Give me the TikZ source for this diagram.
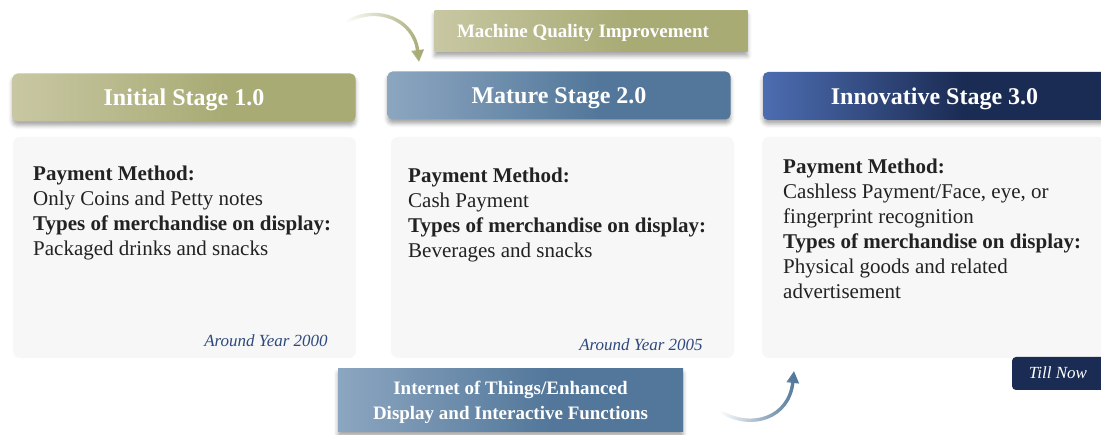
\documentclass[tikz,border=0pt]{standalone}
\usepackage{fontspec}
\setmainfont{Liberation Serif}
\usetikzlibrary{shadows.blur,fadings,arrows.meta}
\definecolor{olL}{HTML}{C8C7A3}
\definecolor{olR}{HTML}{A8AB74}
\definecolor{blL}{HTML}{8CA6C0}
\definecolor{blR}{HTML}{52779A}
\definecolor{nvL}{HTML}{4D6DB1}
\definecolor{nvR}{HTML}{1B2C54}
\definecolor{bodyfill}{HTML}{F7F7F7}
\definecolor{bodytext}{HTML}{222222}
\definecolor{yeartext}{HTML}{2E4A7C}
\pgfdeclarehorizontalshading{olshade}{100bp}{color(0bp)=(olL); color(25bp)=(olL); color(56bp)=(olR); color(100bp)=(olR)}
\pgfdeclarehorizontalshading{blshade}{100bp}{color(0bp)=(blL); color(25bp)=(blL); color(56bp)=(blR); color(100bp)=(blR)}
\pgfdeclarehorizontalshading{nvshade}{100bp}{color(0bp)=(nvL); color(25bp)=(nvL); color(54bp)=(nvR); color(100bp)=(nvR)}
\tikzset{
  hdr/.style={rounded corners=5pt, minimum width=343pt, minimum height=48pt,
    text=white, font=\fontsize{24}{28}\selectfont\bfseries, inner sep=0pt, text depth=0pt,
    blur shadow={shadow xshift=0pt, shadow yshift=-4pt, shadow blur radius=4pt, shadow opacity=35}},
  tag/.style={minimum height=41pt, text=white, font=\fontsize{19}{25}\selectfont\bfseries,
    inner sep=0pt, align=center,
    blur shadow={shadow xshift=0pt, shadow yshift=-4pt, shadow blur radius=4pt, shadow opacity=35}},
  tagtxt/.style={text=white, font=\fontsize{19}{25}\selectfont\bfseries, inner sep=0pt, align=center},
  bodybox/.style={rounded corners=7pt, fill=bodyfill, minimum width=343pt, minimum height=221pt, inner sep=0pt},
  bodytxt/.style={anchor=north west, inner sep=0pt, align=left, text=bodytext,
    font=\fontsize{21}{25}\selectfont},
  year/.style={text=yeartext, font=\fontsize{17}{20}\selectfont\itshape, inner sep=0pt},
  flow/.style={line width=3.4pt, -{Triangle[length=12pt,width=12pt]}, path fading=west}
}
\begin{document}
\begin{tikzpicture}[x=1pt,y=-1pt]
\useasboundingbox (0,0) rectangle (1101,435);
\clip (0,0) rectangle (1101,435);
% body boxes
\node[bodybox] (b1) at (184.5,247.5) {};
\node[bodybox] (b2) at (562.5,247.5) {};
\node[bodybox] (b3) at (933.5,247.5) {};
% headers
\node[hdr, shading=olshade] (h1) at (184,97.5) {Initial Stage 1.0};
\node[hdr, shading=blshade] (h2) at (559,95.5) {Mature Stage 2.0};
\node[hdr, shading=nvshade] (h3) at (934.5,96) {Innovative Stage 3.0};
% body texts
\node[bodytxt] (t1) at (33,166) {\textbf{Payment Method:}\\Only Coins and Petty notes\\\textbf{Types of merchandise on display:}\\Packaged drinks and snacks};
\node[bodytxt] (t2) at (408,168) {\textbf{Payment Method:}\\Cash Payment\\\textbf{Types of merchandise on display:}\\Beverages and snacks};
\node[bodytxt] (t3) at (783,159) {\textbf{Payment Method:}\\Cashless Payment/Face, eye, or\\fingerprint recognition\\\textbf{Types of merchandise on display:}\\Physical goods and related\\advertisement};
\node[year] (y1) at (266,341) {Around Year 2000};
\node[year] (y2) at (641,345) {Around Year 2005};
% till now
\node[rounded corners=4pt, fill=nvR, minimum width=100pt, minimum height=33pt, inner sep=0pt] (tn) at (1062,373.5) {};
\node[text=white, font=\fontsize{17}{20}\selectfont\itshape, inner sep=0pt] (tnt) at (1058,373) {Till Now};
% machine quality improvement
\node[tag, shading=olshade, minimum width=313pt] (mq) at (591,31.5) {};
\node[tagtxt] (mqt) at (583,33) {Machine Quality Improvement};
% IoT
\node[tag, shading=blshade, minimum width=345pt, minimum height=63pt] (iot) at (510.5,400.5) {};
\node[tagtxt] (iott) at (510.5,402.5) {Internet of Things/Enhanced\\Display and Interactive Functions};
% arrows
\coordinate (a1s) at (346,22);
\coordinate (a1e) at (419,62);
\draw[flow, draw=olR] (a1s) .. controls (378,4) and (414,20) .. (a1e);
\coordinate (a2s) at (721,412);
\coordinate (a2e) at (794,371);
\draw[flow, draw=blR] (a2s) .. controls (752,430) and (789,418) .. (a2e);
\end{tikzpicture}
\end{document}
